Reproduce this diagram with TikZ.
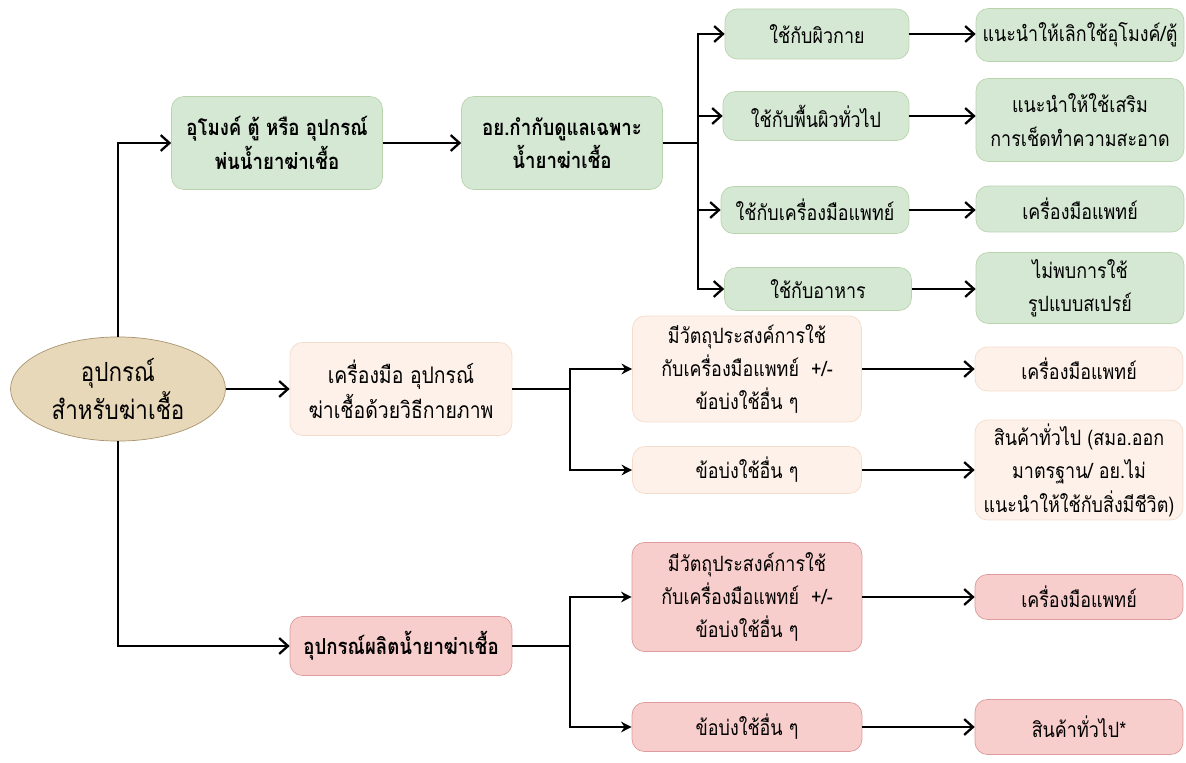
\documentclass[tikz,border=0pt]{standalone}
\usepackage{fontspec}
\newfontfamily\thaifont[Script=Thai,FakeStretch=0.85]{Loma}
\usetikzlibrary{arrows.meta,shapes.geometric}

\definecolor{greenfill}{HTML}{D5E8D4}
\definecolor{greenline}{HTML}{B9D4AD}
\definecolor{peachfill}{HTML}{FDF1E9}
\definecolor{peachline}{HTML}{F3DCCB}
\definecolor{pinkfill}{HTML}{F8CECC}
\definecolor{pinkline}{HTML}{DE9A9C}
\definecolor{tanfill}{HTML}{E8D8BA}
\definecolor{tanline}{HTML}{A8956F}

\tikzset{
  box/.style={rounded corners=7pt, align=center, inner sep=2pt,
    font=\thaifont\fontsize{12}{19}\selectfont},
  greenbox/.style={box, draw=greenline, fill=greenfill},
  peachbox/.style={box, draw=peachline, fill=peachfill},
  pinkbox/.style={box, draw=pinkline, fill=pinkfill},
  boldtext/.style={font=\thaifont\bfseries\fontsize{12.5}{19}\selectfont},
  bigtext/.style={font=\thaifont\fontsize{13}{20}\selectfont},
  conn/.style={line width=1.3pt},
  arr/.style={conn, -{Straight Barb[length=5pt,width=9pt]}},
  farr/.style={conn, -{Stealth[length=6pt,width=6pt]}}
}

\begin{document}
\begin{tikzpicture}[x=0.02cm, y=-0.02cm]
\useasboundingbox (0,0) rectangle (1186,763);

% root of the tree
\node[ellipse, draw=tanline, fill=tanfill, minimum width=4.3cm, minimum height=1.88cm,
  align=center, font=\thaifont\fontsize{15}{22}\selectfont]
  (root) at (118,389) {อุปกรณ์\\สำหรับฆ่าเชื้อ};

% top branch (green)
\node[greenbox, boldtext, minimum width=4.22cm, minimum height=1.86cm] (tunnel) at (277,143) {อุโมงค์ ตู้ หรือ อุปกรณ์\\พ่นน้ำยาฆ่าเชื้อ};
\node[greenbox, boldtext, minimum width=4.02cm, minimum height=1.86cm] (fda) at (562,143) {อย.กำกับดูแลเฉพาะ\\น้ำยาฆ่าเชื้อ};

\node[greenbox, minimum width=3.68cm, minimum height=1.0cm] (skin) at (817,34) {ใช้กับผิวกาย};
\node[greenbox, minimum width=3.72cm, minimum height=0.98cm] (surface) at (816,116) {ใช้กับพื้นผิวทั่วไป};
\node[greenbox, minimum width=3.76cm, minimum height=0.94cm] (tool) at (815,210) {ใช้กับเครื่องมือแพทย์};
\node[greenbox, minimum width=3.74cm, minimum height=0.86cm] (food) at (818,289) {ใช้กับอาหาร};

\node[greenbox, minimum width=4.16cm, minimum height=1.06cm] (stop) at (1080,35) {แนะนำให้เลิกใช้อุโมงค์/ตู้};
\node[greenbox, minimum width=4.16cm, minimum height=1.66cm] (extra) at (1080,120) {แนะนำให้ใช้เสริม\\การเช็ดทำความสะอาด};
\node[greenbox, minimum width=4.16cm, minimum height=0.92cm] (medA) at (1080,209) {เครื่องมือแพทย์};
\node[greenbox, minimum width=4.16cm, minimum height=1.42cm] (nospray) at (1080,288) {ไม่พบการใช้\\รูปแบบสเปรย์};

% middle branch (peach)
\node[peachbox, bigtext, minimum width=4.44cm, minimum height=1.86cm] (physical) at (401,389) {เครื่องมือ อุปกรณ์\\ฆ่าเชื้อด้วยวิธีกายภาพ};
\node[peachbox, minimum width=4.58cm, minimum height=2.12cm] (purposeB) at (747,369) {มีวัตถุประสงค์การใช้\\กับเครื่องมือแพทย์~~+/-\\ข้อบ่งใช้อื่น ๆ};
\node[peachbox, minimum width=4.58cm, minimum height=0.94cm] (otherB) at (747,470) {ข้อบ่งใช้อื่น ๆ};
\node[peachbox, minimum width=4.16cm, minimum height=0.88cm] (medB) at (1079,369) {เครื่องมือแพทย์};
\node[peachbox, minimum width=4.16cm, minimum height=2.0cm] (generalB) at (1079,470) {สินค้าทั่วไป (สมอ.ออก\\มาตรฐาน/ อย.ไม่\\แนะนำให้ใช้กับสิ่งมีชีวิต)};

% bottom branch (pink)
\node[pinkbox, boldtext, minimum width=4.44cm, minimum height=1.18cm] (maker) at (401,646) {อุปกรณ์ผลิตน้ำยาฆ่าเชื้อ};
\node[pinkbox, minimum width=4.6cm, minimum height=2.18cm] (purposeC) at (747,597) {มีวัตถุประสงค์การใช้\\กับเครื่องมือแพทย์~~+/-\\ข้อบ่งใช้อื่น ๆ};
\node[pinkbox, minimum width=4.6cm, minimum height=0.98cm] (otherC) at (747,727) {ข้อบ่งใช้อื่น ๆ};
\node[pinkbox, minimum width=4.16cm, minimum height=0.9cm] (medC) at (1079,597) {เครื่องมือแพทย์};
\node[pinkbox, minimum width=4.16cm, minimum height=1.1cm] (generalC) at (1079,727) {สินค้าทั่วไป*};

% junctions
\coordinate (jtop) at (698,143);
\coordinate (jmid) at (570,389);
\coordinate (jbot) at (570,646);

% connectors
\draw[arr] (root.north) |- (tunnel.west);
\draw[arr] (root.east) -- (physical.west);
\draw[arr] (root.south) |- (maker.west);

\draw[arr] (tunnel.east) -- (fda.west);
\draw[conn] (fda.east) -- (jtop);
\foreach \n in {skin,surface,tool,food}
  \draw[arr] (jtop) |- (\n.west);
\draw[arr] (skin.east) -- (skin.east -| stop.west);
\draw[arr] (surface.east) -- (surface.east -| extra.west);
\draw[arr] (tool.east) -- (tool.east -| medA.west);
\draw[arr] (food.east) -- (food.east -| nospray.west);

\draw[conn] (physical.east) -- (jmid);
\draw[farr] (jmid) |- (purposeB.west);
\draw[farr] (jmid) |- (otherB.west);
\draw[arr] (purposeB.east) -- (purposeB.east -| medB.west);
\draw[arr] (otherB.east) -- (otherB.east -| generalB.west);

\draw[conn] (maker.east) -- (jbot);
\draw[farr] (jbot) |- (purposeC.west);
\draw[farr] (jbot) |- (otherC.west);
\draw[arr] (purposeC.east) -- (purposeC.east -| medC.west);
\draw[arr] (otherC.east) -- (otherC.east -| generalC.west);

\end{tikzpicture}
\end{document}
